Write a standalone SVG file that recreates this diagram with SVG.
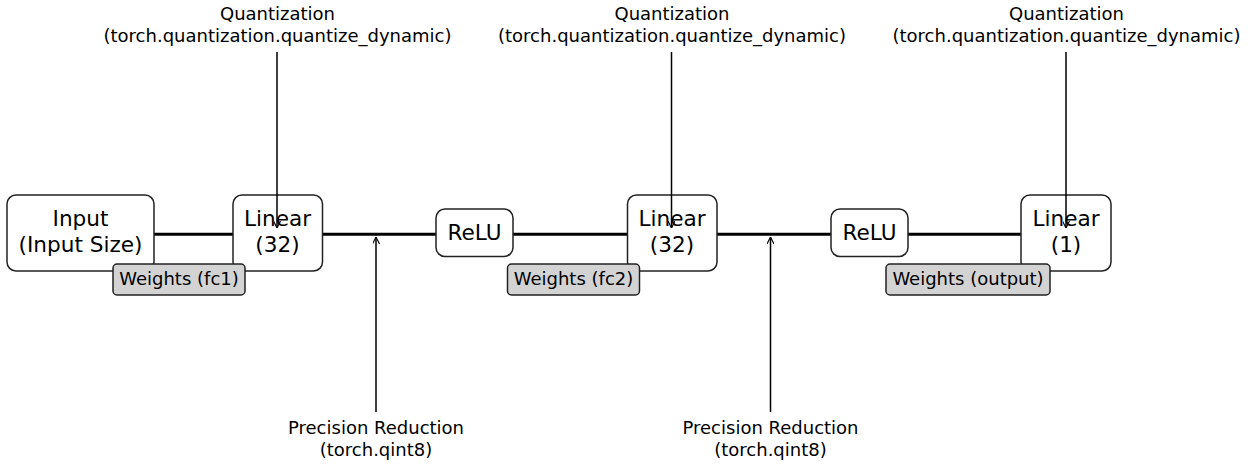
<svg xmlns="http://www.w3.org/2000/svg" width="1253" height="466" viewBox="0 0 1253 466">
<defs>
<marker id="arr" viewBox="0 0 10 10" refX="10" refY="5" markerWidth="7" markerHeight="7" markerUnits="userSpaceOnUse" orient="auto">
<path d="M0,0 L10,5 L0,10" fill="none" stroke="#000" stroke-width="1.6"/>
</marker>
<style>
text{font-family:"DejaVu Sans","Liberation Sans",sans-serif;fill:#000;text-anchor:middle}
.node{fill:#fff;stroke:#222;stroke-width:1.5}
.w{fill:#d3d3d3;stroke:#222;stroke-width:1.5}
.big{font-size:21.6px}
.sm{font-size:18px}
.flow{stroke:#000;stroke-width:3;fill:none}
.ann{stroke:#000;stroke-width:1.5;fill:none;marker-end:url(#arr)}
</style>
</defs>
<rect width="1253" height="466" fill="#fff"/>
<g id="connectors">
<line class="flow" x1="154" y1="234.3" x2="233" y2="234.3"/>
<line class="flow" x1="322" y1="234.3" x2="436" y2="234.3"/>
<line class="flow" x1="513" y1="234.3" x2="627" y2="234.3"/>
<line class="flow" x1="717" y1="234.3" x2="831" y2="234.3"/>
<line class="flow" x1="908" y1="234.3" x2="1021" y2="234.3"/>
</g>
<g id="input"><rect class="node" x="7" y="195" width="147" height="76" rx="9"/><text class="big" x="80.5" y="226">Input</text><text class="big" x="80.5" y="252">(Input Size)</text></g>
<g id="linear1"><rect class="node" x="233" y="195" width="89.5" height="76" rx="9"/><text class="big" x="277.5" y="226">Linear</text><text class="big" x="277.5" y="252">(32)</text></g>
<g id="relu1"><rect class="node" x="436" y="209" width="77" height="47.5" rx="9"/><text class="big" x="474.5" y="240">ReLU</text></g>
<g id="linear2"><rect class="node" x="627.5" y="195" width="89.5" height="76" rx="9"/><text class="big" x="672" y="226">Linear</text><text class="big" x="672" y="252">(32)</text></g>
<g id="relu2"><rect class="node" x="831" y="209" width="77" height="47.5" rx="9"/><text class="big" x="869.5" y="240">ReLU</text></g>
<g id="linear3"><rect class="node" x="1021" y="195" width="90" height="76" rx="9"/><text class="big" x="1066" y="226">Linear</text><text class="big" x="1066" y="252">(1)</text></g>
<g id="w1"><rect class="w" x="113" y="264" width="132" height="31" rx="4"/><text class="sm" x="179" y="285">Weights (fc1)</text></g>
<g id="w2"><rect class="w" x="507.5" y="264" width="132" height="31" rx="4"/><text class="sm" x="573.5" y="285">Weights (fc2)</text></g>
<g id="w3"><rect class="w" x="886" y="264" width="164" height="31" rx="4"/><text class="sm" x="968" y="285">Weights (output)</text></g>
<g id="annotations">
<line class="ann" x1="277" y1="52" x2="277" y2="228"/>
<line class="ann" x1="671.5" y1="52" x2="671.5" y2="228"/>
<line class="ann" x1="1066" y1="52" x2="1066" y2="228"/>
<line class="ann" x1="376" y1="412" x2="376" y2="237"/>
<line class="ann" x1="770.5" y1="412" x2="770.5" y2="237"/>
</g>
<g id="q1"><text class="sm" x="277.5" y="20">Quantization</text><text class="sm" x="277.5" y="41.5">(torch.quantization.quantize_dynamic)</text></g>
<g id="q2"><text class="sm" x="672" y="20">Quantization</text><text class="sm" x="672" y="41.5">(torch.quantization.quantize_dynamic)</text></g>
<g id="q3"><text class="sm" x="1066.5" y="20">Quantization</text><text class="sm" x="1066.5" y="41.5">(torch.quantization.quantize_dynamic)</text></g>
<g id="p1"><text class="sm" x="376" y="434">Precision Reduction</text><text class="sm" x="376" y="456">(torch.qint8)</text></g>
<g id="p2"><text class="sm" x="770.5" y="434">Precision Reduction</text><text class="sm" x="770.5" y="456">(torch.qint8)</text></g>
</svg>
